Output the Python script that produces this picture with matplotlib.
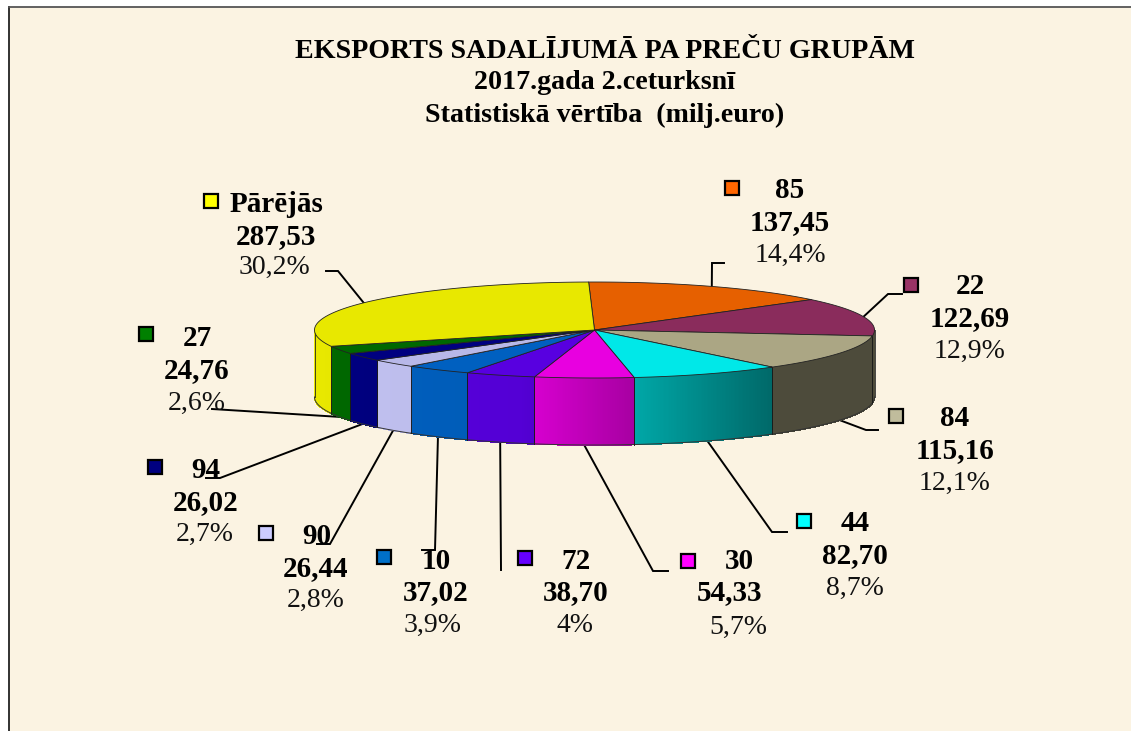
import numpy as np
import matplotlib
matplotlib.use("Agg")
import matplotlib.pyplot as plt
from matplotlib.patches import Polygon, Rectangle

# ---- data ----
codes = ["85", "22", "84", "44", "30", "72", "10", "90", "94", "27", "Pārējās"]
values = [137.45, 122.69, 115.16, 82.70, 54.33, 38.70, 37.02, 26.44, 26.02, 24.76, 287.53]
value_labels = ["137,45", "122,69", "115,16", "82,70", "54,33", "38,70", "37,02", "26,44", "26,02", "24,76", "287,53"]
pct_labels = ["14,4%", "12,9%", "12,1%", "8,7%", "5,7%", "4%", "3,9%", "2,8%", "2,7%", "2,6%", "30,2%"]
title_lines = ["EKSPORTS SADALĪJUMĀ PA PREČU GRUPĀM", "2017.gada 2.ceturksnī", "Statistiskā vērtība  (milj.euro)"]

# ---- style ----
top_colors = ["#E66000", "#8A2C5C", "#ABA684", "#00E8E8", "#E800E0", "#5800E0", "#0060C0", "#B8B8E8", "#000080", "#006800", "#E8E800"]
side_colors = ["#E66000", "#ABA684", "#ABA684", "#00E8E8", "#E800E0", "#5800E0", "#0060C0", "#C2C2F2", "#000080", "#006800", "#E8E800"]
key_colors = ["#FF6600", "#993366", "#C0BC9C", "#00FFFF", "#FF00FF", "#6600FF", "#0070C8", "#CCCCFF", "#000080", "#008000", "#FFFF00"]
BG = "#FBF3E2"
CX, CY, RX, RY, DEPTH = 594.5, 330.0, 280.0, 48.0, 67.0
START = 91.2

# per-label layout in figure pixels: key xy, text centre x per line, line y's
key_xy = [(732, 188), (911, 285), (896, 416), (804, 521), (688, 561), (525, 558), (384, 557), (266, 533), (155, 467), (146, 334), (211, 201)]
text_x = [(790, 790, 790), (970, 970, 970), (955, 955, 955), (855, 855, 855), (739, 729, 738),
          (576, 576, 575), (436, 436, 433), (317, 316, 316), (206, 206, 205), (197, 197, 197), (276, 276, 274)]
text_y = [(189, 221, 254), (285, 317, 350), (417, 449, 482), (522, 554, 587), (560, 591, 626),
          (560, 591, 624), (560, 591, 624), (535, 567, 599), (469, 501, 533), (337, 369, 402), (203, 235, 266)]
# leader line: points running from the label towards the pie
leaders = [[(724, 263), (712, 263)], [(902, 294), (888, 294)], [(878, 430), (866, 430)], [(787, 532), (772, 532)],
           [(668, 571), (653, 571)], [(501, 570)], [(422, 550), (435, 550)], [(317, 544), (330, 544)],
           [(206, 478), (220, 478)], [(212, 409)], [(326, 271), (338, 271)]]
anchor_on_bottom = [False, False, True, True, True, True, True, True, True, True, False]

plt.rcParams["font.family"] = ["Liberation Serif", "DejaVu Serif"]
fig = plt.figure(figsize=(11.31, 7.31), dpi=100, facecolor="white")
ax = fig.add_axes([0, 0, 1, 1])
ax.set_xlim(0, 1131)
ax.set_ylim(731, 0)
ax.axis("off")

ax.add_patch(Rectangle((9, 7), 1122, 724, fc=BG, ec="none", zorder=0))
ax.plot([9, 9], [7, 731], color="#222222", lw=1.3, zorder=1)
ax.plot([9, 1131], [7, 7], color="#555555", lw=1.3, zorder=1)


def ex(a):
    return CX + RX * np.cos(np.radians(a))


def ey(a):
    return CY - RY * np.sin(np.radians(a))


def shade(x):
    return np.interp(x, [315, 520, 634, 772, 875], [1.0, 0.95, 0.72, 0.45, 0.45])


vals = np.array(values)
sweep = vals / vals.sum() * 360.0
ends = START - np.cumsum(sweep)
starts = ends + sweep

# front wall: only the part of each slice between -180 and 0 degrees shows
for s, e, col in zip(starts, ends, side_colors):
    a0 = min(s, 0.0)
    a1 = max(e, -180.0)
    if a0 <= a1:
        continue
    ang = np.linspace(a0, a1, max(int((a0 - a1) * 3), 2))
    rgb = np.array(matplotlib.colors.to_rgb(col))
    for p, q in zip(ang[:-1], ang[1:]):
        xs = [ex(p), ex(q), ex(q), ex(p)]
        ys = [ey(p), ey(q), ey(q) + DEPTH, ey(p) + DEPTH]
        c = np.clip(rgb * shade((xs[0] + xs[1]) / 2), 0, 1)
        ax.add_patch(Polygon(np.c_[xs, ys], fc=c, ec=c, lw=0.6, antialiased=False, zorder=2))
    xb = ex(ang)
    yb = ey(ang)
    ax.plot(xb, yb + DEPTH, color="#333333", lw=0.7, zorder=3)
    ax.plot([xb[0], xb[0]], [yb[0], yb[0] + DEPTH], color="#1a1a1a", lw=0.7, alpha=0.8, zorder=3)
    ax.plot([xb[-1], xb[-1]], [yb[-1], yb[-1] + DEPTH], color="#1a1a1a", lw=0.7, alpha=0.8, zorder=3)

# top surface
for s, e, col in zip(starts, ends, top_colors):
    ang = np.linspace(s, e, max(int(s - e) * 2, 4))
    pts = np.r_[[[CX, CY]], np.c_[ex(ang), ey(ang)]]
    ax.add_patch(Polygon(pts, closed=True, fc=col, ec="#222222", lw=0.6, joinstyle="round", zorder=4))

# legend keys, labels and leaders
for i, code in enumerate(codes):
    kx, ky = key_xy[i]
    ax.add_patch(Rectangle((kx - 7, ky - 7), 14, 14, fc=key_colors[i], ec="black", lw=1.6, zorder=6))
    ax.text(text_x[i][0], text_y[i][0] + 1.5, code, ha="center", va="center", fontsize=21, fontweight="bold", color="black", zorder=7)
    ax.text(text_x[i][1], text_y[i][1] + 1.5, value_labels[i], ha="center", va="center", fontsize=21, fontweight="bold", color="black", zorder=7)
    ax.text(text_x[i][2], text_y[i][2] + 1.5, pct_labels[i], ha="center", va="center", fontsize=20, color="#111111", zorder=7)
    mid = (starts[i] + ends[i]) / 2
    ax_, ay_ = ex(mid), ey(mid) + (DEPTH if anchor_on_bottom[i] else 0)
    path = leaders[i] + [(ax_, ay_)]
    ax.plot([p[0] for p in path], [p[1] for p in path], color="black", lw=1.4, zorder=1.5, solid_joinstyle="miter")

for line, y in zip(title_lines, (50, 81, 114)):
    ax.text(605, y + 1.5, line, ha="center", va="center", fontsize=20.2, fontweight="bold", color="black", zorder=7)

fig.savefig("out.png", dpi=100, facecolor="white")
